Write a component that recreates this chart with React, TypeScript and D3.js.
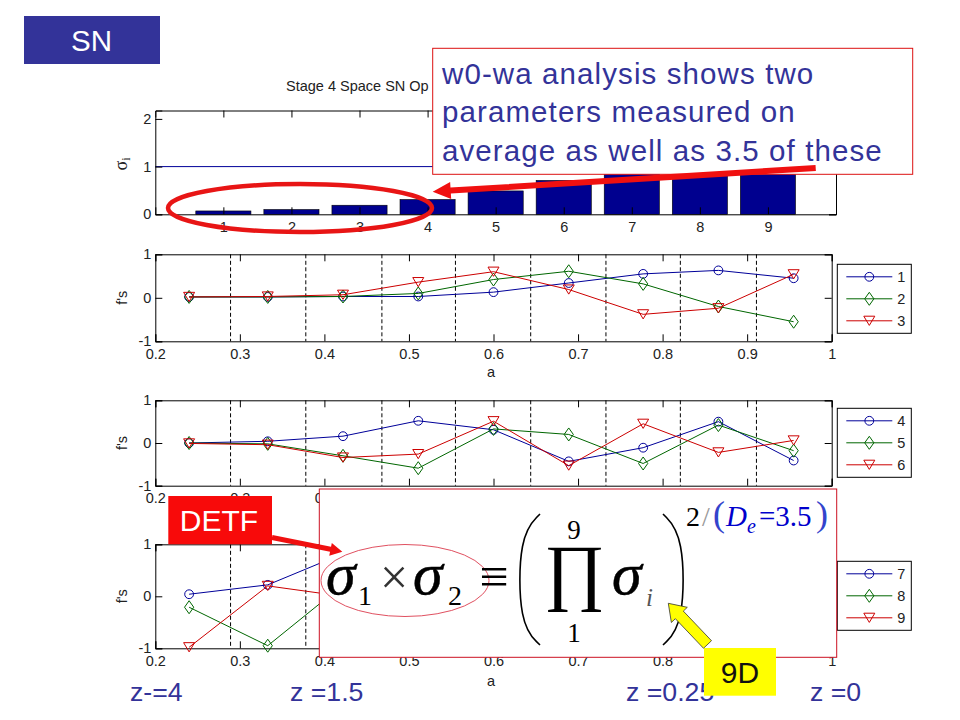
import * as d3 from "d3";
import React, { useEffect, useRef } from "react";

const WIDTH = 960;
const HEIGHT = 720;

// singular values, tops of 7-9 are hidden by the callout so those are guesses
const modes = [1, 2, 3, 4, 5, 6, 7, 8, 9];
const sigmas = [0.07, 0.1, 0.19, 0.31, 0.49, 0.71, 0.88, 0.92, 0.97];

const aCenters = [0.24, 0.333, 0.422, 0.511, 0.6, 0.689, 0.777, 0.866, 0.955];
const zEdges = [0.289, 0.378, 0.468, 0.555, 0.644, 0.733, 0.821, 0.911];

const f1 = [0.02, 0.02, 0.03, 0.03, 0.13, 0.34, 0.55, 0.63, 0.45];
const f2 = [0.02, 0.02, 0.03, 0.1, 0.42, 0.61, 0.32, -0.2, -0.55];
const f3 = [0.02, 0.03, 0.07, 0.36, 0.6, 0.19, -0.38, -0.24, 0.54];

const f4 = [0, 0.04, 0.16, 0.52, 0.31, -0.43, -0.11, 0.5, -0.41];
const f5 = [0, -0.02, -0.3, -0.59, 0.33, 0.2, -0.48, 0.42, -0.18];
const f6 = [-0.01, -0.04, -0.34, -0.26, 0.51, -0.53, 0.45, -0.22, 0.06];

// only the first three points of 7-9 show, the rest sits behind the formula box
const f7 = [0.04, 0.22, 0.82, 0.6, 0.2, -0.2, -0.2, -0.2, 0.1];
const f8 = [-0.21, -0.95, 0.22, 0.3, 0.1, -0.1, 0.2, 0.1, 0];
const f9 = [-0.98, 0.2, 0, -0.1, -0.2, 0.2, 0.1, -0.1, 0];

const panels = [
  { top: 254.3, bottom: 341.3, legendTop: 264.3, labels: ["1", "2", "3"], series: [f1, f2, f3], aY: 377 },
  { top: 400.3, bottom: 485.7, legendTop: 408.3, labels: ["4", "5", "6"], series: [f4, f5, f6], aY: 522 },
  { top: 544.3, bottom: 648.3, legendTop: 561.3, labels: ["7", "8", "9"], series: [f7, f8, f9], aY: 686 },
];

const lineColors = ["#000099", "#006600", "#cc0000"];
const markerPaths = [
  d3.symbol().type(d3.symbolCircle).size(Math.PI * 4.4 * 4.4)() as string,
  "M0,-6.5L4.6,0L0,6.5L-4.6,0Z",
  "M-5.5,-4.6L5.5,-4.6L0,4.6Z",
];

const LEFT = 155.3;
const RIGHT = 831.7;
const SANS = "'Liberation Sans', Arial, sans-serif";
const SERIF = "'Liberation Serif', 'Times New Roman', serif";
const SLIDE_BLUE = "#333399";
const AXIS_FONT = 14.5;

type Sel = d3.Selection<SVGGElement, unknown, null, undefined>;

function frame(
  g: Sel,
  x: d3.ScaleLinear<number, number>,
  y: d3.ScaleLinear<number, number>,
  xTicks: number[],
  yTicks: number[],
  xFormat: (d: number) => string
) {
  const [y0, y1] = y.range();
  const axes = g.append("g");
  axes
    .append("g")
    .attr("transform", `translate(0,${y0})`)
    .call(d3.axisBottom(x).tickValues(xTicks).tickSize(-7).tickPadding(7).tickFormat((d) => xFormat(+d)));
  axes
    .append("g")
    .attr("transform", `translate(0,${y1})`)
    .call(d3.axisTop(x).tickValues(xTicks).tickSize(-7).tickFormat(() => ""));
  axes
    .append("g")
    .attr("transform", `translate(${x.range()[0]},0)`)
    .call(d3.axisLeft(y).tickValues(yTicks).tickSize(-7).tickPadding(4).tickFormat((d) => String(d)));
  axes
    .append("g")
    .attr("transform", `translate(${x.range()[1]},0)`)
    .call(d3.axisRight(y).tickValues(yTicks).tickSize(-7).tickFormat(() => ""));
  axes.selectAll(".tick line").attr("stroke", "#000");
  axes.selectAll(".domain").attr("stroke", "#000");
  axes.selectAll("text").attr("font-family", SANS).attr("font-size", AXIS_FONT).attr("fill", "#222");
}

function blockArrow(x1: number, y1: number, x2: number, y2: number, shaft: number, headLen: number, headHalf: number) {
  const dx = x2 - x1;
  const dy = y2 - y1;
  const len = Math.hypot(dx, dy);
  const ux = dx / len;
  const uy = dy / len;
  const bx = x2 - ux * headLen;
  const by = y2 - uy * headLen;
  const pts: [number, number][] = [
    [x1 - uy * shaft, y1 + ux * shaft],
    [bx - uy * shaft, by + ux * shaft],
    [bx - uy * headHalf, by + ux * headHalf],
    [x2, y2],
    [bx + uy * headHalf, by - ux * headHalf],
    [bx + uy * shaft, by - ux * shaft],
    [x1 + uy * shaft, y1 - ux * shaft],
  ];
  return d3.line()(pts) + "Z";
}

const App: React.FC = () => {
  const ref = useRef<SVGSVGElement>(null);

  useEffect(() => {
    if (!ref.current) return;
    const svg = d3.select(ref.current);
    svg.selectAll("*").remove();
    svg.append("rect").attr("width", WIDTH).attr("height", HEIGHT).attr("fill", "#fff");

    const root = svg.append("g") as unknown as Sel;

    // bar panel
    const xBar = d3.scaleLinear().domain([0, 10]).range([155.3, 836]);
    const yBar = d3.scaleLinear().domain([0, 2.176]).range([214.3, 110.5]);
    const barG = root.append("g");
    barG
      .selectAll("rect")
      .data(sigmas)
      .enter()
      .append("rect")
      .attr("x", (_, i) => xBar(modes[i] - 0.405))
      .attr("width", xBar(0.81) - xBar(0))
      .attr("y", (d) => yBar(d))
      .attr("height", (d) => yBar(0) - yBar(d))
      .attr("fill", "#00008f")
      .attr("stroke", "#000")
      .attr("stroke-width", 0.6);
    barG
      .append("line")
      .attr("x1", xBar(0))
      .attr("x2", xBar(10))
      .attr("y1", yBar(1))
      .attr("y2", yBar(1))
      .attr("stroke", "#000099");
    frame(barG as unknown as Sel, xBar, yBar, modes, [0, 1, 2], (d) => String(d));
    barG
      .append("text")
      .attr("x", 286)
      .attr("y", 91)
      .attr("font-family", SANS)
      .attr("font-size", AXIS_FONT)
      .attr("fill", "#222")
      .text("Stage 4 Space SN Op");
    const sigLabel = barG
      .append("text")
      .attr("transform", "translate(127,164) rotate(-90)")
      .attr("text-anchor", "middle")
      .attr("font-family", SERIF)
      .attr("font-size", 18)
      .attr("fill", "#222");
    sigLabel.append("tspan").text("σ");
    sigLabel.append("tspan").attr("font-size", 12).attr("dy", 3).text("i");

    // mode panels
    const xA = d3.scaleLinear().domain([0.2, 1]).range([LEFT, RIGHT]);
    const aTicks = [0.2, 0.3, 0.4, 0.5, 0.6, 0.7, 0.8, 0.9, 1];
    panels.forEach((p) => {
      const g = root.append("g");
      const y = d3.scaleLinear().domain([-1, 1]).range([p.bottom, p.top]);
      g.selectAll(".edge")
        .data(zEdges)
        .enter()
        .append("line")
        .attr("class", "edge")
        .attr("x1", (d) => xA(d))
        .attr("x2", (d) => xA(d))
        .attr("y1", p.top)
        .attr("y2", p.bottom)
        .attr("stroke", "#000")
        .attr("stroke-dasharray", "4,2.5");
      frame(g as unknown as Sel, xA, y, aTicks, [-1, 0, 1], (d) => (d === 1 ? "1" : d.toFixed(1)));

      const line = d3
        .line<number>()
        .x((_, i) => xA(aCenters[i]))
        .y((d) => y(d));
      p.series.forEach((values, s) => {
        g.append("path")
          .attr("d", line(values) as string)
          .attr("fill", "none")
          .attr("stroke", lineColors[s]);
        g.selectAll(`.m${s}`)
          .data(values)
          .enter()
          .append("path")
          .attr("class", `m${s}`)
          .attr("d", markerPaths[s])
          .attr("transform", (d, i) => `translate(${xA(aCenters[i])},${y(d)})`)
          .attr("fill", "none")
          .attr("stroke", lineColors[s]);
      });

      g.append("text")
        .attr("transform", `translate(127,${y(0)}) rotate(-90)`)
        .attr("text-anchor", "middle")
        .attr("font-family", SANS)
        .attr("font-size", AXIS_FONT)
        .attr("fill", "#222")
        .text("f's");
      g.append("text")
        .attr("x", 491)
        .attr("y", p.aY)
        .attr("text-anchor", "middle")
        .attr("font-family", SANS)
        .attr("font-size", AXIS_FONT)
        .attr("fill", "#222")
        .text("a");

      // legend
      const legend = g.append("g").attr("transform", `translate(837.3,${p.legendTop})`);
      legend.append("rect").attr("width", 74).attr("height", 69).attr("fill", "#fff").attr("stroke", "#000");
      p.labels.forEach((label, s) => {
        const rowY = 12.5 + s * 22;
        legend
          .append("line")
          .attr("x1", 9)
          .attr("x2", 55)
          .attr("y1", rowY)
          .attr("y2", rowY)
          .attr("stroke", lineColors[s]);
        legend
          .append("path")
          .attr("d", markerPaths[s])
          .attr("transform", `translate(32,${rowY})`)
          .attr("fill", "none")
          .attr("stroke", lineColors[s]);
        legend
          .append("text")
          .attr("x", 60)
          .attr("y", rowY + 5.5)
          .attr("font-family", SANS)
          .attr("font-size", AXIS_FONT)
          .attr("fill", "#222")
          .text(label);
      });
    });

    // redshift labels under the last panel
    const zLabels = [
      { x: 130, t: "z-=4" },
      { x: 290, t: "z =1.5" },
      { x: 626, t: "z =0.25" },
      { x: 810, t: "z =0" },
    ];
    svg
      .selectAll(".zlabel")
      .data(zLabels)
      .enter()
      .append("text")
      .attr("class", "zlabel")
      .attr("x", (d) => d.x)
      .attr("y", 700.5)
      .attr("font-family", SANS)
      .attr("font-size", 26.7)
      .attr("fill", SLIDE_BLUE)
      .text((d) => d.t);

    // SN tag
    svg.append("rect").attr("x", 24).attr("y", 16).attr("width", 136).attr("height", 48).attr("fill", SLIDE_BLUE);
    svg
      .append("text")
      .attr("x", 91.5)
      .attr("y", 51)
      .attr("text-anchor", "middle")
      .attr("font-family", SANS)
      .attr("font-size", 29.5)
      .attr("fill", "#fff")
      .text("SN");

    // callout
    svg
      .append("rect")
      .attr("x", 432.7)
      .attr("y", 48.3)
      .attr("width", 480)
      .attr("height", 126)
      .attr("fill", "#fff")
      .attr("stroke", "#dd1111");
    const calloutLines = [
      "w0-wa analysis shows two",
      "parameters measured on",
      "average as well as 3.5 of these",
    ];
    svg
      .selectAll(".callout")
      .data(calloutLines)
      .enter()
      .append("text")
      .attr("class", "callout")
      .attr("x", 442)
      .attr("y", (_, i) => 83.5 + i * 38.7)
      .attr("font-family", SANS)
      .attr("font-size", 29.5)
      .attr("letter-spacing", 1.1)
      .attr("fill", SLIDE_BLUE)
      .text((d) => d);
    svg.append("path").attr("d", blockArrow(815.7, 168, 432.7, 191.7, 3, 18, 8.5)).attr("fill", "#f01010");

    svg
      .append("ellipse")
      .attr("cx", 300)
      .attr("cy", 208)
      .attr("rx", 132)
      .attr("ry", 24)
      .attr("fill", "none")
      .attr("stroke", "#e81515")
      .attr("stroke-width", 4.5);

    // formula box
    svg
      .append("rect")
      .attr("x", 319.3)
      .attr("y", 489)
      .attr("width", 517.4)
      .attr("height", 168.3)
      .attr("fill", "#fff")
      .attr("stroke", "#cc1122");
    svg
      .append("ellipse")
      .attr("cx", 405)
      .attr("cy", 580.5)
      .attr("rx", 84)
      .attr("ry", 36)
      .attr("fill", "none")
      .attr("stroke", "#e05060");

    const mathText = (x: number, y: number, t: string, size: number, italic = false, fill = "#000", anchor = "start") =>
      svg
        .append("text")
        .attr("x", x)
        .attr("y", y)
        .attr("font-family", SERIF)
        .attr("font-size", size)
        .attr("font-style", italic ? "italic" : "normal")
        .attr("text-anchor", anchor)
        .attr("fill", fill)
        .text(t);
    mathText(326, 594, "σ", 60, true).attr("stroke", "#000").attr("stroke-width", 0.5);
    mathText(358, 605, "1", 28);
    mathText(394, 594, "×", 50, false, "#333", "middle");
    mathText(413, 594, "σ", 60, true).attr("stroke", "#000").attr("stroke-width", 0.5);
    mathText(448, 605, "2", 28);
    mathText(494, 594, "≡", 52, false, "#000", "middle");
    mathText(574, 539, "9", 27, false, "#000", "middle");
    mathText(574.5, 596, "∏", 74, false, "#000", "middle");
    mathText(574, 642, "1", 27, false, "#000", "middle");
    mathText(612, 594, "σ", 60, true).attr("stroke", "#000").attr("stroke-width", 0.5);
    mathText(646, 606, "i", 25, true, "#555");
    mathText(686, 526, "2", 28);
    mathText(702, 526, "/", 28, false, "#999");
    mathText(713, 526, "(", 36, false, "#3344cc");
    mathText(726, 526, "D", 29, true, "#0000cc");
    mathText(747, 533, "e", 20, true, "#0000cc");
    mathText(759, 526, "=3.5", 29, false, "#0000cc");
    mathText(816, 526, ")", 36, false, "#3344cc");

    // big brackets around the product
    const bracket = d3.line().curve(d3.curveBasis);
    svg
      .append("path")
      .attr("d", bracket([[540, 514], [519, 535], [519, 625], [540, 645]]) as string)
      .attr("fill", "none")
      .attr("stroke", "#000")
      .attr("stroke-width", 1.6);
    svg
      .append("path")
      .attr("d", bracket([[663, 514], [684, 535], [684, 625], [663, 645]]) as string)
      .attr("fill", "none")
      .attr("stroke", "#000")
      .attr("stroke-width", 1.6);

    // DETF tag
    svg.append("rect").attr("x", 168.3).attr("y", 496).attr("width", 103.7).attr("height", 48.3).attr("fill", "#f80a0a");
    svg
      .append("text")
      .attr("x", 219)
      .attr("y", 531)
      .attr("text-anchor", "middle")
      .attr("font-family", SANS)
      .attr("font-size", 30)
      .attr("fill", "#fff")
      .text("DETF");
    svg.append("path").attr("d", blockArrow(272, 537.5, 342.3, 551.7, 2.5, 12, 6.5)).attr("fill", "#f01010");

    // 9D tag
    svg
      .append("path")
      .attr("d", blockArrow(707.5, 644.5, 668.3, 603.3, 5.5, 16, 11))
      .attr("fill", "#ffff00")
      .attr("stroke", "#333")
      .attr("stroke-width", 0.8);
    svg.append("rect").attr("x", 704).attr("y", 648).attr("width", 72).attr("height", 47.7).attr("fill", "#ffff00");
    svg
      .append("text")
      .attr("x", 740)
      .attr("y", 683)
      .attr("text-anchor", "middle")
      .attr("font-family", SANS)
      .attr("font-size", 30)
      .attr("fill", "#111")
      .text("9D");
  }, []);

  return (
    <svg
      ref={ref}
      width={WIDTH}
      height={HEIGHT}
      style={{ position: "absolute", left: 0, top: 0 }}
    ></svg>
  );
};

export default App;
